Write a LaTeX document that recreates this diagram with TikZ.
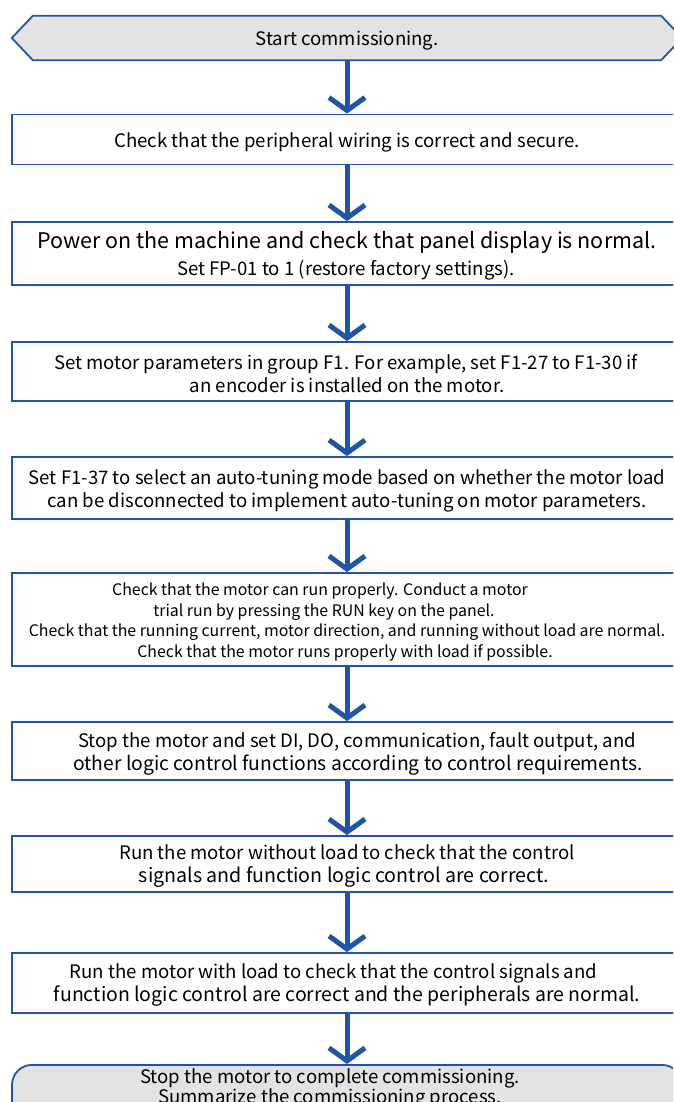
\documentclass[tikz,border=0pt]{standalone}
\usepackage{fontspec}
\setmainfont{Noto Sans CJK SC}
\usetikzlibrary{arrows.meta,backgrounds}
\definecolor{bblue}{RGB}{31,84,166}
\definecolor{bgray}{RGB}{227,227,227}
% one text line, lowered a little and shifted sideways without changing its box
\newcommand{\tline}[2][0pt]{\raisebox{-2.5pt}[\height][\depth]{\hspace*{#1}#2\hspace*{-#1}}}
\begin{document}
\begin{tikzpicture}[x=1pt,y=-1pt,
  box/.style={draw=bblue, line width=1.8pt, minimum width=670pt, inner sep=0pt, align=center,
              font=\fontsize{18.6}{23}\selectfont},
  smallbox/.style={box, font=\fontsize{15.9}{20.7}\selectfont},
  startbox/.style={minimum width=670pt, minimum height=44pt, inner sep=0pt,
              font=\fontsize{18.6}{23}\selectfont},
  finbox/.style={draw=bblue, fill=bgray, line width=1.8pt, minimum width=670pt, minimum height=60pt,
              rounded corners=20pt, inner sep=0pt},
  fintext/.style={align=center, inner sep=0pt, font=\fontsize{18.6}{20}\selectfont},
  flow/.style={draw=bblue, line width=5pt,
              -{Straight Barb[length=13pt,width=36pt,line width=5pt]}},
]
\useasboundingbox (0,0) rectangle (673,1102);
\clip (0,0) rectangle (673,1102);

\node[startbox] (start) at (347,38) {\tline{Start commissioning.}};
\begin{scope}[on background layer]
\filldraw[draw=bblue, fill=bgray, line width=1.8pt]
  ([xshift=21pt]start.north west) -- ([xshift=-21pt]start.north east) -- (start.east)
  -- ([xshift=-21pt]start.south east) -- ([xshift=21pt]start.south west) -- (start.west) -- cycle;
\end{scope}

\node[box, minimum height=50pt] (b1) at (347,139.5)
  {\tline{Check that the peripheral wiring is correct and secure.}};

\node[box, minimum height=63pt] (b2) at (347,253.5)
  {\tline{\fontsize{21.5}{28}\selectfont Power on the machine and check that panel display is normal.}\\[4pt]
   \tline[-1pt]{Set FP-01 to 1 (restore factory settings).}};

\node[box, minimum height=59pt] (b3) at (347,371.5)
  {\tline[-1pt]{Set motor parameters in group F1. For example, set F1-27 to F1-30 if}\\
   \tline{an encoder is installed on the motor.}};

\node[box, minimum height=62pt] (b4) at (347,488)
  {\tline{Set F1-37 to select an auto-tuning mode based on whether the motor load}\\
   \tline{can be disconnected to implement auto-tuning on motor parameters.}};

\node[smallbox, minimum height=93pt] (b5) at (347,619.5)
  {\tline[-27pt]{Check that the motor can run properly. Conduct a motor}\\
   \tline[-23pt]{trial run by pressing the RUN key on the panel.}\\
   \tline{Check that the running current, motor direction, and running without load are normal.}\\
   \tline[-2pt]{Check that the motor runs properly with load if possible.}};

\node[box, minimum height=58pt] (b6) at (347,751)
  {\tline[10pt]{Stop the motor and set DI, DO, communication, fault output, and}\\
   \tline[11pt]{\fontsize{19.3}{23}\selectfont other logic control functions according to control requirements.}};

\node[box, minimum height=56pt] (b7) at (347,864)
  {\tline{Run the motor without load to check that the control}\\
   \tline[-3pt]{\fontsize{19.6}{23}\selectfont signals and function logic control are correct.}};

\node[box, minimum height=60pt] (b8) at (347,983)
  {\tline[-13.5pt]{Run the motor with load to check that the control signals and}\\
   \tline{\fontsize{19.5}{23}\selectfont function logic control are correct and the peripherals are normal.}};

\node[finbox, anchor=north] (fin) at (347,1064) {};
\node[fintext] (fint) at (330,1088.5)
  {Stop the motor to complete commissioning.\\
   Summarize the commissioning process.};

\draw[flow] (start.south) -- (b1.north);
\draw[flow] (b1.south) -- (b2.north);
\draw[flow] (b2.south) -- (b3.north);
\draw[flow] (b3.south) -- (b4.north);
\draw[flow] (b4.south) -- (b5.north);
\draw[flow] (b5.south) -- (b6.north);
\draw[flow] (b6.south) -- (b7.north);
\draw[flow] (b7.south) -- (b8.north);
\draw[flow] (b8.south) -- (fin.north);
\end{tikzpicture}
\end{document}
